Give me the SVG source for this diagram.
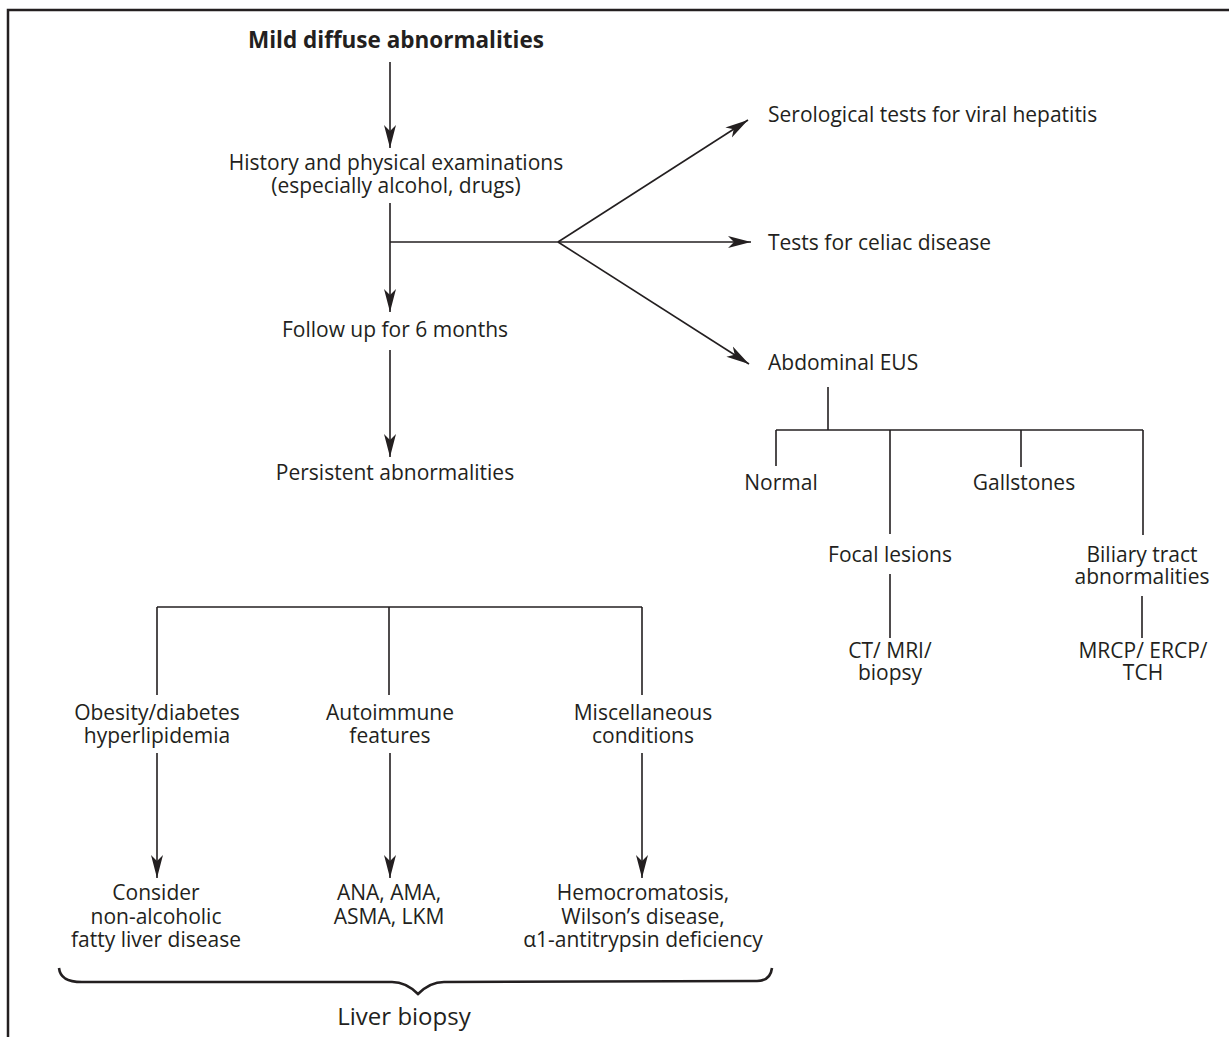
<svg xmlns="http://www.w3.org/2000/svg" width="1229" height="1037" viewBox="0 0 1229 1037">
<style>
  text { font-family: "Open Sans", "Liberation Sans", sans-serif; font-size: 21px; fill: #231f20; text-anchor: middle; }
  text.l { text-anchor: start; }
  text.b { font-weight: bold; font-size: 22.5px; }
  text.big { font-size: 24px; }
  .c line, .c path { stroke: #231f20; stroke-width: 1.6; fill: none; }
  .c .arr { marker-end: url(#ah); }
  .c path.brace { stroke-width: 2.6; }
</style>
<defs>
  <marker id="ah" markerUnits="userSpaceOnUse" markerWidth="24" markerHeight="13" refX="23" refY="6.5" orient="auto" viewBox="0 0 24 13">
    <path d="M0,0.5 L23,6.5 L0,12.5 L6,6.5 Z" fill="#231f20"/>
  </marker>
</defs>
<rect x="0" y="0" width="1229" height="1037" fill="#ffffff"/>
<path d="M8,1037 L8,10 L1229,10" stroke="#231f20" stroke-width="2.5" fill="none"/>

<g id="connectors" class="c">
  <line class="arr" x1="390" y1="62" x2="390" y2="148"/>
  <line class="arr" x1="390" y1="203" x2="390" y2="312"/>
  <line x1="390" y1="242" x2="558" y2="242"/>
  <line class="arr" x1="558" y1="242" x2="748" y2="120"/>
  <line class="arr" x1="558" y1="242" x2="751" y2="242"/>
  <line class="arr" x1="558" y1="242" x2="749" y2="364"/>
  <line class="arr" x1="390" y1="350" x2="390" y2="457"/>
  <line x1="828" y1="387" x2="828" y2="430"/>
  <line x1="776" y1="430" x2="1143" y2="430"/>
  <line x1="776" y1="430" x2="776" y2="466"/>
  <line x1="890" y1="430" x2="890" y2="534"/>
  <line x1="1021" y1="430" x2="1021" y2="467"/>
  <line x1="1143" y1="430" x2="1143" y2="535"/>
  <line x1="890" y1="574" x2="890" y2="638"/>
  <line x1="1142" y1="596" x2="1142" y2="638"/>
  <line x1="157" y1="607" x2="642" y2="607"/>
  <line x1="157" y1="607" x2="157" y2="695"/>
  <line x1="389" y1="607" x2="389" y2="695"/>
  <line x1="642" y1="607" x2="642" y2="695"/>
  <line class="arr" x1="157" y1="753" x2="157" y2="878"/>
  <line class="arr" x1="390" y1="753" x2="390" y2="878"/>
  <line class="arr" x1="642" y1="753" x2="642" y2="878"/>
  <path class="brace" d="M59,968 C60,977 66,982 82,982 L392,982 Q406,982 418,994 Q430,982 444,982 L757,981 C766,981 771,976 772,968"/>
</g>

<g id="n_title"><text class="b" x="396" y="48">Mild diffuse abnormalities</text></g>
<g id="n_history">
  <text x="396" y="170">History and physical examinations<tspan x="396" dy="23">(especially alcohol, drugs)</tspan></text>
</g>
<g id="n_followup"><text x="395" y="337">Follow up for 6 months</text></g>
<g id="n_persistent"><text x="395" y="480">Persistent abnormalities</text></g>
<g id="n_serological"><text class="l" x="768" y="122">Serological tests for viral hepatitis</text></g>
<g id="n_celiac"><text class="l" x="768" y="250">Tests for celiac disease</text></g>
<g id="n_eus"><text class="l" x="768" y="370">Abdominal EUS</text></g>
<g id="n_normal"><text x="781" y="490">Normal</text></g>
<g id="n_gallstones"><text x="1024" y="490">Gallstones</text></g>
<g id="n_focal"><text x="890" y="562">Focal lesions</text></g>
<g id="n_ctmri">
  <text x="890" y="658">CT/ MRI/<tspan x="890" dy="22">biopsy</tspan></text>
</g>
<g id="n_biliary">
  <text x="1142" y="562">Biliary tract<tspan x="1142" dy="22">abnormalities</tspan></text>
</g>
<g id="n_mrcp">
  <text x="1143" y="658">MRCP/ ERCP/<tspan x="1143" dy="22">TCH</tspan></text>
</g>
<g id="n_obesity">
  <text x="157" y="720">Obesity/diabetes<tspan x="157" dy="23">hyperlipidemia</tspan></text>
</g>
<g id="n_autoimmune">
  <text x="390" y="720">Autoimmune<tspan x="390" dy="23">features</tspan></text>
</g>
<g id="n_misc">
  <text x="643" y="720">Miscellaneous<tspan x="643" dy="23">conditions</tspan></text>
</g>
<g id="n_nafld">
  <text x="156" y="900">Consider<tspan x="156" dy="23.5">non-alcoholic</tspan><tspan x="156" dy="23.5">fatty liver disease</tspan></text>
</g>
<g id="n_ana">
  <text x="389" y="900">ANA, AMA,<tspan x="389" dy="23.5">ASMA, LKM</tspan></text>
</g>
<g id="n_hemo">
  <text x="643" y="900">Hemocromatosis,<tspan x="643" dy="23.5">Wilson’s disease,</tspan><tspan x="643" dy="23.5">α1-antitrypsin deficiency</tspan></text>
</g>
<g id="n_liverbiopsy"><text class="big" x="404" y="1025">Liver biopsy</text></g>
</svg>
